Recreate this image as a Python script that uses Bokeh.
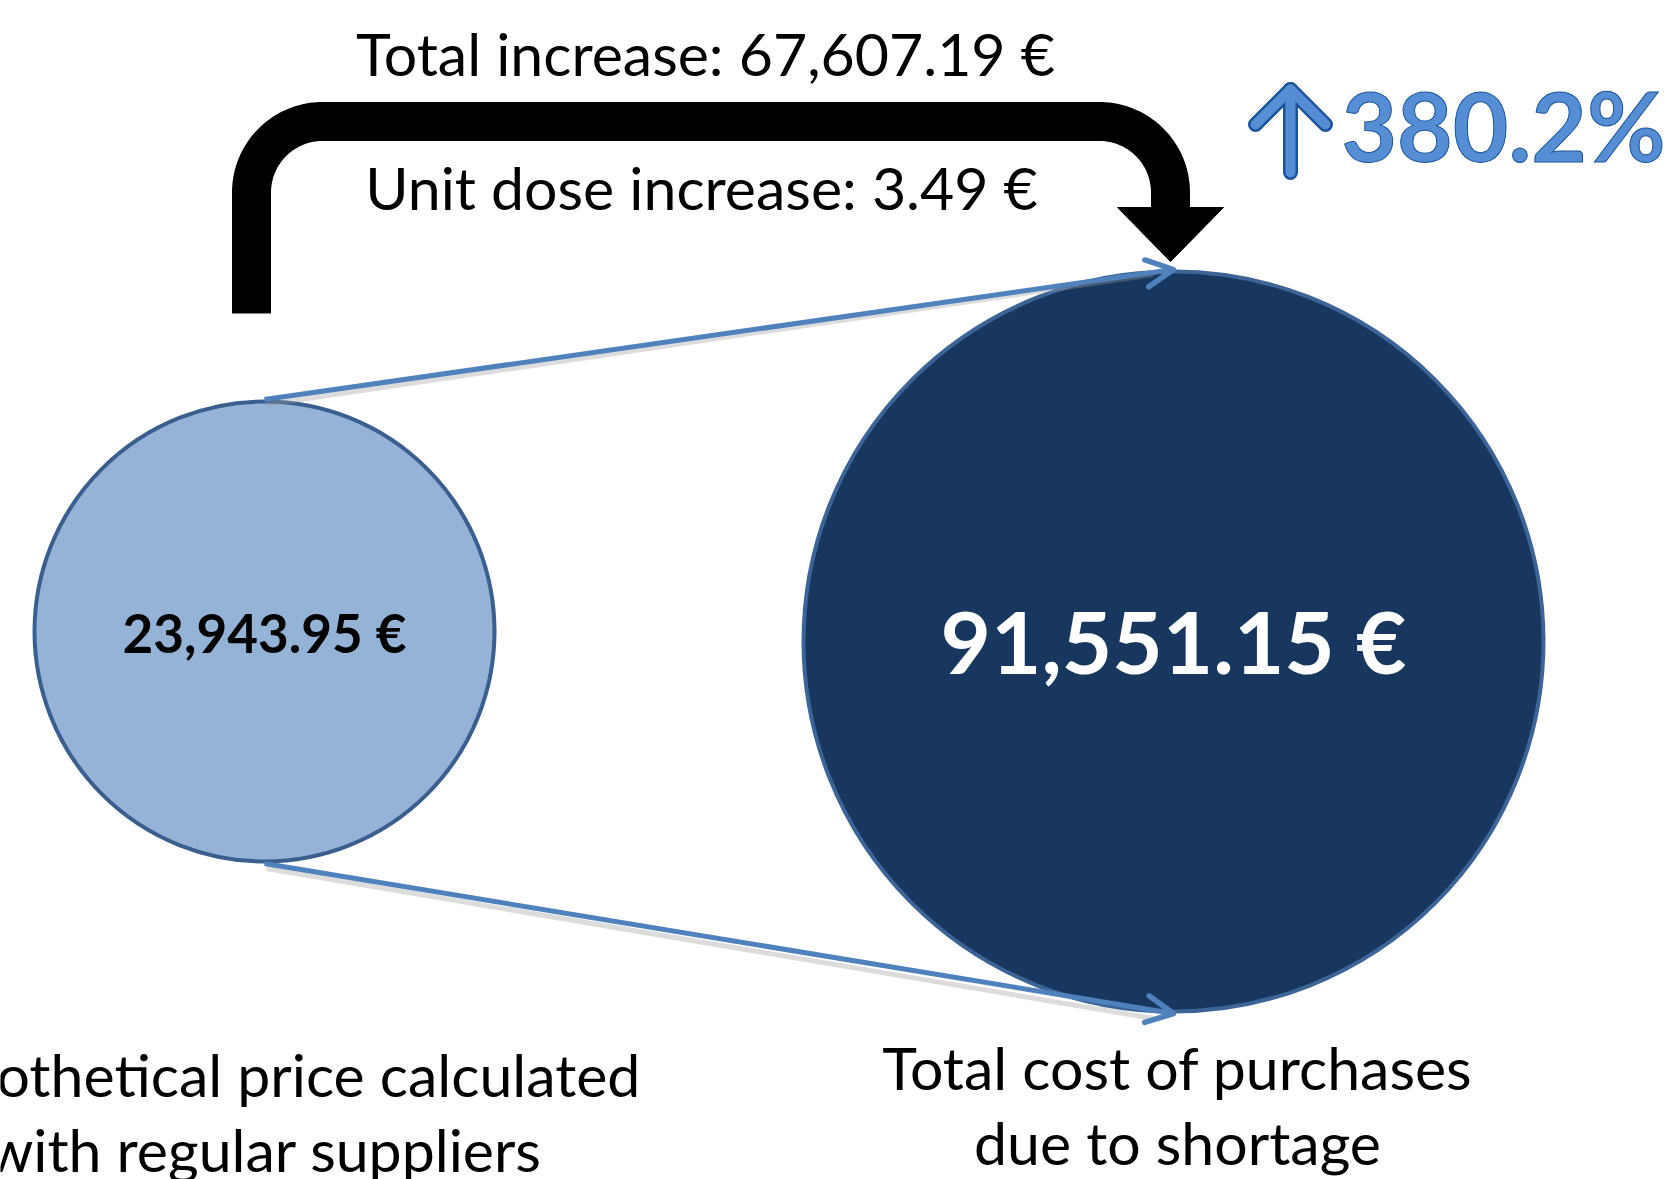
import numpy as np
from bokeh.plotting import figure
from bokeh.models import Range1d, Arrow, OpenHead
from bokeh.core.properties import value
from bokeh.embed import file_html
from bokeh.resources import INLINE

# ---------------- data ----------------
categories = ["Hypothetical price calculated with regular suppliers",
              "Total cost of purchases due to shortage"]
costs = [23943.95, 91551.15]
total_increase = 67607.19
unit_dose_increase = 3.49
pct_increase = 380.2
label_lines = [["Hypothetical price calculated", "with regular suppliers"],
               ["Total cost of purchases", "due to shortage"]]

# ---------------- layout (reference pixel space, y down) ----------------
W, H = 1668, 1179
def Y(v):
    return H - np.asarray(v, dtype=float)

BASE_K = 0.385  # baseline correction (fraction of font size)
def YB(v, size):
    return Y(np.asarray(v, dtype=float) - BASE_K * size)

p = figure(width=W, height=H, x_range=Range1d(0, W), y_range=Range1d(0, H),
           x_axis_type=None, y_axis_type=None, output_backend="svg",
           toolbar_location=None, min_border=0)
p.grid.visible = False
p.outline_line_color = None
p.background_fill_color = "white"
p.border_fill_color = "white"

FONT = value("Lato")

# circles
cx = [264, 1173]
cy = [631, 641]
cr = [230, 370]
p.circle(x=cx[:1], y=Y(cy[:1]), radius=cr[0], fill_color="#95B3D7",
         line_color="#3A5F8F", line_width=4)
p.circle(x=cx[1:], y=Y(cy[1:]), radius=cr[1], fill_color="#17375E",
         line_color="#3D6496", line_width=4)

# blue connector arrows (with faint shadow)
tops = [(cx[0], cy[0] - cr[0] - 2), (cx[1], cy[1] - cr[1] - 2)]
bots = [(cx[0], cy[0] + cr[0] + 2), (cx[1], cy[1] + cr[1] + 2)]
for a, b in [(tops[0], tops[1]), (bots[0], bots[1])]:
    p.line(x=[a[0] + 2, b[0] - 20], y=Y([a[1] + 5, b[1] + 5]), line_color="#9a9a9a",
           line_alpha=0.35, line_width=5)
    p.add_layout(Arrow(x_start=a[0], y_start=float(Y(a[1])), x_end=b[0], y_end=float(Y(b[1])),
                       line_color="#4F81BD", line_width=5,
                       end=OpenHead(size=27, line_color="#4F81BD", line_width=5.5,
                                    line_cap="round", line_join="round")))

# black bent arrow
lw = 39
xl, xr, yt, yb_left, yb_right, rad = 251, 1170, 121, 313, 209, 71
t1 = np.linspace(np.pi, 1.5 * np.pi, 30)
t2 = np.linspace(1.5 * np.pi, 2 * np.pi, 30)
px = np.concatenate([[xl], xl + rad + rad * np.cos(t1), xr - rad + rad * np.cos(t2), [xr]])
py = np.concatenate([[yb_left], yt + rad + rad * np.sin(t1), yt + rad + rad * np.sin(t2), [yb_right]])
p.line(x=px, y=Y(py), line_color="black", line_width=lw, line_cap="butt", line_join="round")
p.patch(x=[1117, 1223, 1170], y=Y([207, 207, 261]), fill_color="black", line_color="black")

# top texts
S1 = 59
p.text(x=[705], y=YB([76], S1), text=[f"Total increase: {total_increase:,.2f} €"],
       text_font=FONT, text_font_size=f"{S1}px", text_align="center",
       text_baseline="alphabetic", text_color="black")
p.text(x=[701], y=YB([210], S1), text=[f"Unit dose increase: {unit_dose_increase:.2f} €"],
       text_font=FONT, text_font_size=f"{S1}px", text_align="center",
       text_baseline="alphabetic", text_color="black")

# percentage with up arrow
ax = 1290
arrow_xs = [[ax, ax], [ax - 35, ax, ax + 35]]
arrow_ys = [list(Y([172, 89])), list(Y([124, 89, 124]))]
p.multi_line(xs=arrow_xs, ys=arrow_ys, line_color="#1C5297", line_width=15,
             line_cap="round", line_join="round")
p.multi_line(xs=arrow_xs, ys=arrow_ys, line_color="#558ED5", line_width=10,
             line_cap="round", line_join="round")
S2 = 96
p.text(x=[1503], y=YB([161], S2), text=[f"{pct_increase:.1f}%"],
       text_font=FONT, text_font_size=f"{S2}px", text_font_style="bold",
       text_align="center", text_baseline="alphabetic",
       text_color="#558ED5", text_outline_color="#1C5297")

# values inside circles
S3, S4 = 53, 87
p.text(x=cx[:1], y=YB([652], S3), text=[f"{costs[0]:,.2f} €"], text_font=FONT,
       text_font_size=f"{S3}px", text_font_style="bold", text_align="center",
       text_baseline="alphabetic", text_color="black")
p.text(x=cx[1:], y=YB([673], S4), text=[f"{costs[1]:,.2f} €"], text_font=FONT,
       text_font_size=f"{S4}px", text_font_style="bold", text_align="center",
       text_baseline="alphabetic", text_color="white")

# bottom labels
S5 = 59
lab_x = [264, 264, 1177, 1177]
lab_y = [1097, 1172, 1090, 1165]
lab_t = label_lines[0] + label_lines[1]
p.text(x=lab_x, y=YB(lab_y, S5), text=lab_t, text_font=FONT, text_font_size=f"{S5}px",
       text_align="center", text_baseline="alphabetic", text_color="black")

open("out.html", "w").write(file_html(p, INLINE))
